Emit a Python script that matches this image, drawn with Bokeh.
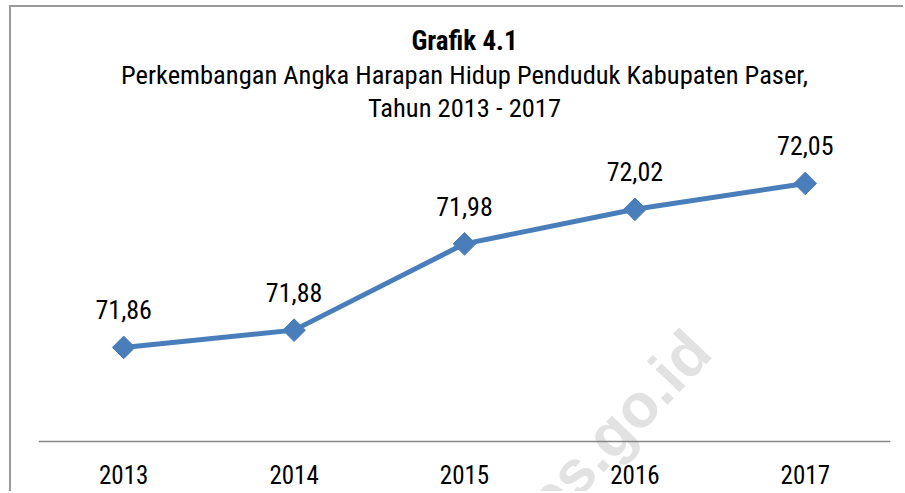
from bokeh.plotting import figure
from bokeh.models import (ColumnDataSource, Title, LabelSet, Label, Range1d,
                          FixedTicker)
from bokeh.core.properties import value
from bokeh.embed import file_html
from bokeh.resources import INLINE
import math

years = [2013, 2014, 2015, 2016, 2017]
values = [71.86, 71.88, 71.98, 72.02, 72.05]
value_labels = ["71,86", "71,88", "71,98", "72,02", "72,05"]
tick_labels = ["2013", "2014", "2015", "2016", "2017"]
title_line1 = "Grafik 4.1"
title_line2 = "Perkembangan Angka Harapan Hidup Penduduk Kabupaten Paser,"
title_line3 = "Tahun 2013 - 2017"
watermark = "bps.go.id"

NARROW = "Roboto Condensed"
BLUE = "#4A7EBB"
AXIS_Y = 71.751

src = ColumnDataSource(dict(x=years, y=values, lab=value_labels))

p = figure(width=894, height=486, title=None,
           x_range=Range1d(2012.5, 2017.5), y_range=Range1d(71.6907, 72.1206),
           output_backend="svg", toolbar_location=None,
           min_border_left=27, min_border_right=15, min_border_bottom=0,
           min_border_top=115)
p.styles = {"margin-left": "9px", "margin-top": "5px",
            "border-left": "2px solid #9a9a9a", "border-top": "2px solid #9a9a9a"}

for txt, style, size in [(title_line3, "normal", "26.5px"),
                         (title_line2, "normal", "26.5px"),
                         (title_line1, "bold", "27px")]:
    p.add_layout(Title(text=txt, align="center", text_font=NARROW,
                       text_font_size=size, text_font_style=style,
                       text_color="#000000", standoff=0), "above")

p.grid.visible = False
p.outline_line_color = None
p.yaxis.visible = False

xa = p.xaxis[0]
xa.fixed_location = AXIS_Y
xa.ticker = FixedTicker(ticks=years)
xa.major_label_overrides = {y: t for y, t in zip(years, tick_labels)}
xa.major_tick_line_color = None
xa.minor_tick_line_color = None
xa.axis_line_color = "#868686"
xa.axis_line_width = 1.5
xa.major_label_standoff = 18
xa.major_label_text_font = NARROW
xa.major_label_text_font_size = "25px"
xa.major_label_text_font_style = "normal"
xa.major_label_text_color = "#000000"

wm = Label(x=2016.376, y=71.868, text=watermark, angle=math.radians(46.5),
           text_align="right", text_baseline="alphabetic",
           text_font="Liberation Sans",
           text_font_size="62px", text_font_style="bold",
           text_color="#e2e2e2", level="underlay")
p.add_layout(wm)

p.line("x", "y", source=src, line_color=BLUE, line_width=5)
p.scatter("x", "y", source=src, marker="square", size=16, angle=math.pi / 4,
          fill_color=BLUE, line_color=BLUE)

labels = LabelSet(x="x", y="y", text="lab", source=src, y_offset=28,
                  text_align="center", text_baseline="alphabetic",
                  text_font=value(NARROW), text_font_size=value("26px"),
                  text_color="#000000")
p.add_layout(labels)

open("out.html", "w").write(file_html(p, INLINE))
